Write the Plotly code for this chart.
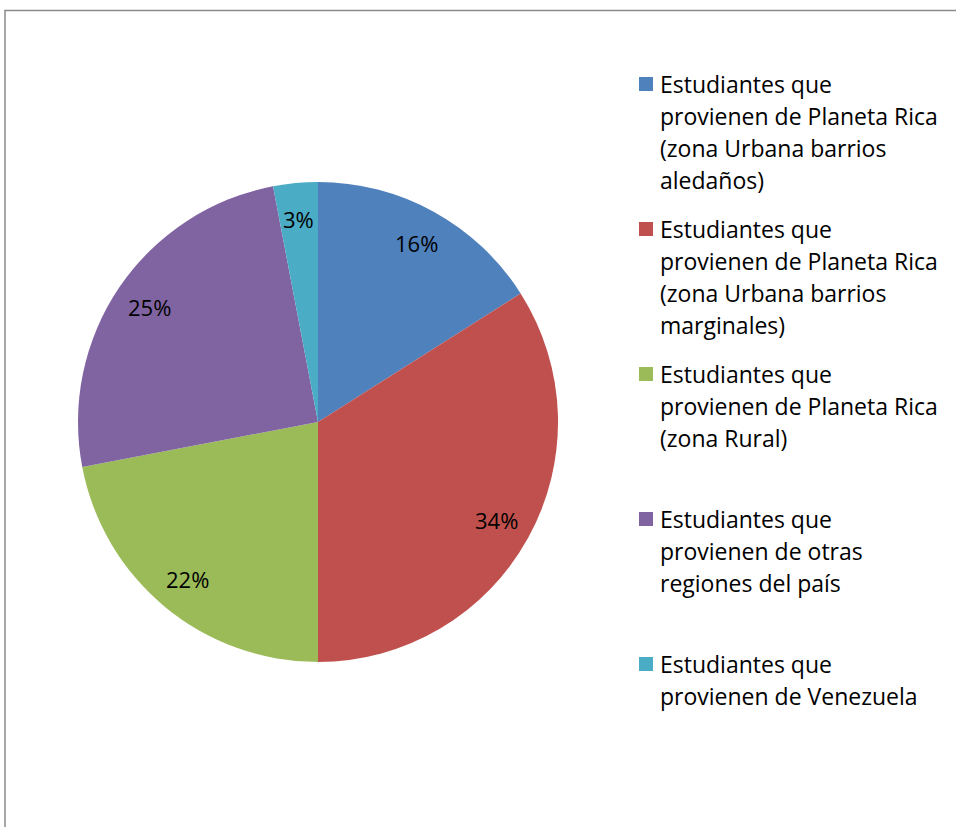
import math
import plotly.graph_objects as go

# Origen de los estudiantes (porcentajes)
categories = [
    "Estudiantes que provienen de Planeta Rica (zona Urbana barrios aledaños)",
    "Estudiantes que provienen de Planeta Rica (zona Urbana barrios marginales)",
    "Estudiantes que provienen de Planeta Rica (zona Rural)",
    "Estudiantes que provienen de otras regiones del país",
    "Estudiantes que provienen de Venezuela",
]
legend_lines = [
    ["Estudiantes que", "provienen de Planeta Rica", "(zona Urbana barrios", "aledaños)"],
    ["Estudiantes que", "provienen de Planeta Rica", "(zona Urbana barrios", "marginales)"],
    ["Estudiantes que", "provienen de Planeta Rica", "(zona Rural)"],
    ["Estudiantes que", "provienen de otras", "regiones del país"],
    ["Estudiantes que", "provienen de Venezuela"],
]
values = [16, 34, 22, 25, 3]
colors = ["#4F81BD", "#C0504D", "#9BBB59", "#8064A2", "#4BACC6"]

W, H = 956, 827
FONT = "Open Sans"
FS = 23

# pie placement in pixels
cx, cy, R = 318, 422, 240

def px(x):
    return x / W

def py(y):
    return 1 - y / H

fig = go.Figure()
fig.add_trace(go.Pie(
    labels=categories,
    values=values,
    sort=False,
    direction="clockwise",
    rotation=0,
    marker=dict(colors=colors, line=dict(width=0)),
    textinfo="none",
    hoverinfo="label+percent",
    showlegend=False,
    domain=dict(x=[px(cx - R), px(cx + R)], y=[py(cy + R), py(cy - R)]),
))

annotations = []
shapes = []

# percentage labels at 0.85 of the radius, on each slice's mid angle
total = sum(values)
cum = 0
for v in values:
    mid = (cum + v / 2) / total * 2 * math.pi
    cum += v
    lx = cx + 0.85 * R * math.sin(mid)
    ly = cy - 0.85 * R * math.cos(mid)
    annotations.append(dict(
        x=px(lx), y=py(ly), xref="paper", yref="paper",
        text=f"{round(v / total * 100)}%", showarrow=False,
        xanchor="center", yanchor="middle",
        font=dict(family=FONT, size=FS - 1, color="#000000"),
    ))

# legend: colour squares and wrapped labels
item_top = 84
item_step = 145
line_step = 32
for i, lines in enumerate(legend_lines):
    y0 = item_top + i * item_step
    shapes.append(dict(
        type="rect", xref="paper", yref="paper",
        x0=px(639), x1=px(653), y0=py(y0 - 7), y1=py(y0 + 7),
        fillcolor=colors[i], line=dict(width=0),
    ))
    for k, t in enumerate(lines):
        annotations.append(dict(
            x=px(658), y=py(y0 + k * line_step), xref="paper", yref="paper",
            text=t, showarrow=False, xanchor="left", yanchor="middle",
            font=dict(family=FONT, size=FS, color="#000000"),
        ))

# chart area frame
shapes.append(dict(
    type="rect", xref="paper", yref="paper",
    x0=px(5), x1=1.02, y0=-0.02, y1=py(10.5),
    line=dict(color="#8a8a8a", width=1.5), fillcolor="rgba(0,0,0,0)",
))

fig.update_layout(
    width=W, height=H,
    margin=dict(l=0, r=0, t=0, b=0),
    paper_bgcolor="#ffffff",
    plot_bgcolor="#ffffff",
    annotations=annotations,
    shapes=shapes,
    font=dict(family=FONT),
)

fig.write_html("out.html")
